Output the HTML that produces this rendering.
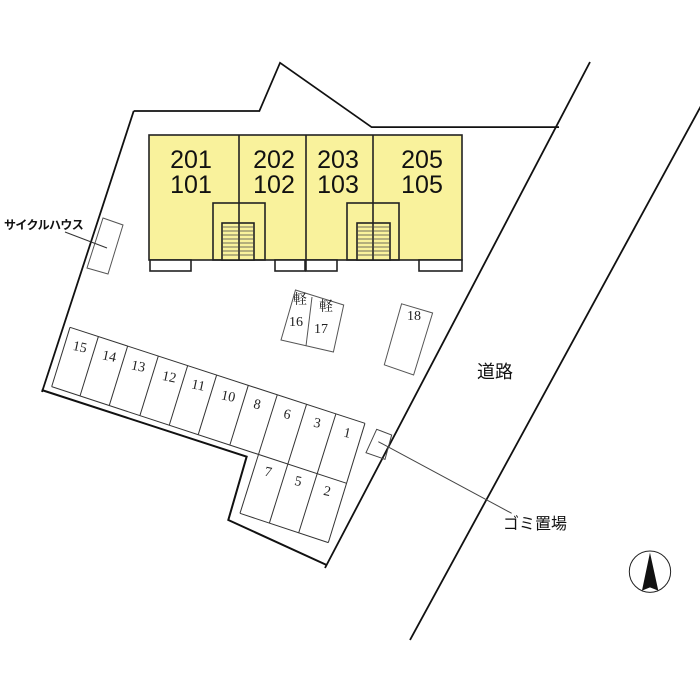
<!DOCTYPE html>
<html><head><meta charset="utf-8"><style>
html,body{margin:0;padding:0;background:#fff;}
svg{display:block;}
</style></head><body>
<svg width="700" height="700" viewBox="0 0 700 700" xmlns="http://www.w3.org/2000/svg">
<rect width="700" height="700" fill="#fff"/>
<line x1="590" y1="62" x2="325" y2="568" stroke="#111" stroke-width="1.8"/>
<line x1="726" y1="60" x2="410" y2="640" stroke="#111" stroke-width="1.8"/>
<g transform="translate(40,60) scale(0.3444)" fill="none" stroke="#111" stroke-width="5">
<polyline points="1507,195 963,195 697,8 637,148 272,148"/>
</g>
<line x1="133.7" y1="111" x2="42" y2="392" stroke="#111" stroke-width="1.8"/>
<g transform="translate(40,320) scale(0.3333)" fill="none" stroke="#111">
<polyline points="5,210 620,410 565,600 860,735" stroke-width="6"/>
<g stroke="#333" stroke-width="3">
<line x1="90" y1="22" x2="975" y2="310"/>
<line x1="35" y1="200" x2="920" y2="490"/>
<line x1="600" y1="580" x2="865" y2="668"/>
<line x1="90" y1="22" x2="35" y2="200"/>
<line x1="175" y1="50" x2="120" y2="228"/>
<line x1="263" y1="78" x2="208" y2="256"/>
<line x1="355" y1="108" x2="300" y2="286"/>
<line x1="443" y1="137" x2="388" y2="315"/>
<line x1="530" y1="165" x2="475" y2="343"/>
<line x1="625" y1="196" x2="570" y2="374"/>
<line x1="712" y1="224" x2="600" y2="580"/>
<line x1="800" y1="252" x2="688" y2="610"/>
<line x1="888" y1="281" x2="776" y2="639"/>
<line x1="975" y1="310" x2="865" y2="668"/>
</g>
<g font-family="Liberation Serif, serif" font-size="42" fill="#222" stroke="none" text-anchor="middle">
<text x="120" y="94" transform="rotate(12 120 80)">15</text>
<text x="208" y="122" transform="rotate(12 208 108)">14</text>
<text x="295" y="152" transform="rotate(12 295 138)">13</text>
<text x="388" y="184" transform="rotate(12 388 170)">12</text>
<text x="475" y="209" transform="rotate(12 475 195)">11</text>
<text x="565" y="242" transform="rotate(12 565 228)">10</text>
<text x="652" y="266" transform="rotate(12 652 252)">8</text>
<text x="742" y="296" transform="rotate(12 742 282)">6</text>
<text x="832" y="322" transform="rotate(12 832 308)">3</text>
<text x="922" y="352" transform="rotate(12 922 338)">1</text>
<text x="685" y="469" transform="rotate(12 685 455)">7</text>
<text x="775" y="497" transform="rotate(12 775 483)">5</text>
<text x="862" y="527" transform="rotate(12 862 513)">2</text>
</g>
</g>
<g stroke="#222" stroke-width="1.6" fill="#f9f29c">
<rect x="149" y="135" width="313" height="125"/>
<line x1="239" y1="135" x2="239" y2="260"/>
<line x1="306" y1="135" x2="306" y2="271"/>
<line x1="373" y1="135" x2="373" y2="260"/>
<rect x="213" y="203" width="52" height="57" fill="none"/>
<rect x="347" y="203" width="52" height="57" fill="none"/>
<rect x="222" y="223" width="32" height="37" fill="#f9f29c"/>
<rect x="357" y="223" width="33" height="37" fill="#f9f29c"/>
<line x1="239" y1="223" x2="239" y2="260"/>
<line x1="373" y1="223" x2="373" y2="260"/>
<rect x="150" y="260" width="41" height="11" fill="#fff"/>
<rect x="275" y="260" width="30" height="11" fill="#fff"/>
<rect x="306" y="260" width="31" height="11" fill="#fff"/>
<rect x="419" y="260" width="43" height="11" fill="#fff"/>
</g>
<g stroke="#444" stroke-width="0.8">
<path d="M222 227h32M222 231h32M222 235h32M222 239h32M222 243h32M222 247h32M222 251h32M222 255h32"/>
<path d="M357 227h33M357 231h33M357 235h33M357 239h33M357 243h33M357 247h33M357 251h33M357 255h33"/>
</g>
<g font-family="Liberation Sans, sans-serif" font-size="25" fill="#111" text-anchor="middle">
<text x="191" y="168">201</text><text x="191" y="193">101</text>
<text x="274" y="168">202</text><text x="274" y="193">102</text>
<text x="338" y="168">203</text><text x="338" y="193">103</text>
<text x="422" y="168">205</text><text x="422" y="193">105</text>
</g>
<polygon points="103,218 123,225 108,274 87,268" fill="none" stroke="#555" stroke-width="1"/>
<line x1="65" y1="232" x2="107" y2="248" stroke="#333" stroke-width="1"/>
<text x="4" y="229" font-family="Liberation Sans, 'Noto Sans CJK JP', sans-serif" font-size="12" font-weight="bold" letter-spacing="-0.6" fill="#111">サイクルハウス</text>
<g fill="none" stroke="#555" stroke-width="1">
<polygon points="295.5,290 343.7,305 333.4,352 281,340"/>
<line x1="312" y1="297" x2="306" y2="346"/>
<polygon points="401.6,303.8 432.6,313 413.6,375 384.3,364.8"/>
</g>
<g font-family="Liberation Serif, 'Noto Serif CJK SC', serif" font-size="14" fill="#222" text-anchor="middle">
<text x="300" y="304">軽</text><text x="296" y="326">16</text>
<text x="326" y="311">軽</text><text x="321" y="333">17</text>
<text x="414" y="320">18</text>
</g>
<text x="477" y="378" font-family="Liberation Sans, 'Noto Sans CJK JP', sans-serif" font-size="18" fill="#111">道路</text>
<g transform="translate(360,400) scale(0.3333)" fill="none" stroke="#444">
<polygon points="50,88 95,105 75,178 18,158" stroke-width="3"/>
<line x1="55" y1="125" x2="455" y2="340" stroke-width="3"/>
<circle cx="870" cy="515" r="62" stroke-width="3" stroke="#222"/>
<polygon points="870,458 846,572 870,562 895,572" fill="#111" stroke="none"/>
</g>
<text x="503" y="529" font-family="Liberation Sans, 'Noto Sans CJK JP', sans-serif" font-size="16" fill="#111">ゴミ置場</text>
</svg>
</body></html>
